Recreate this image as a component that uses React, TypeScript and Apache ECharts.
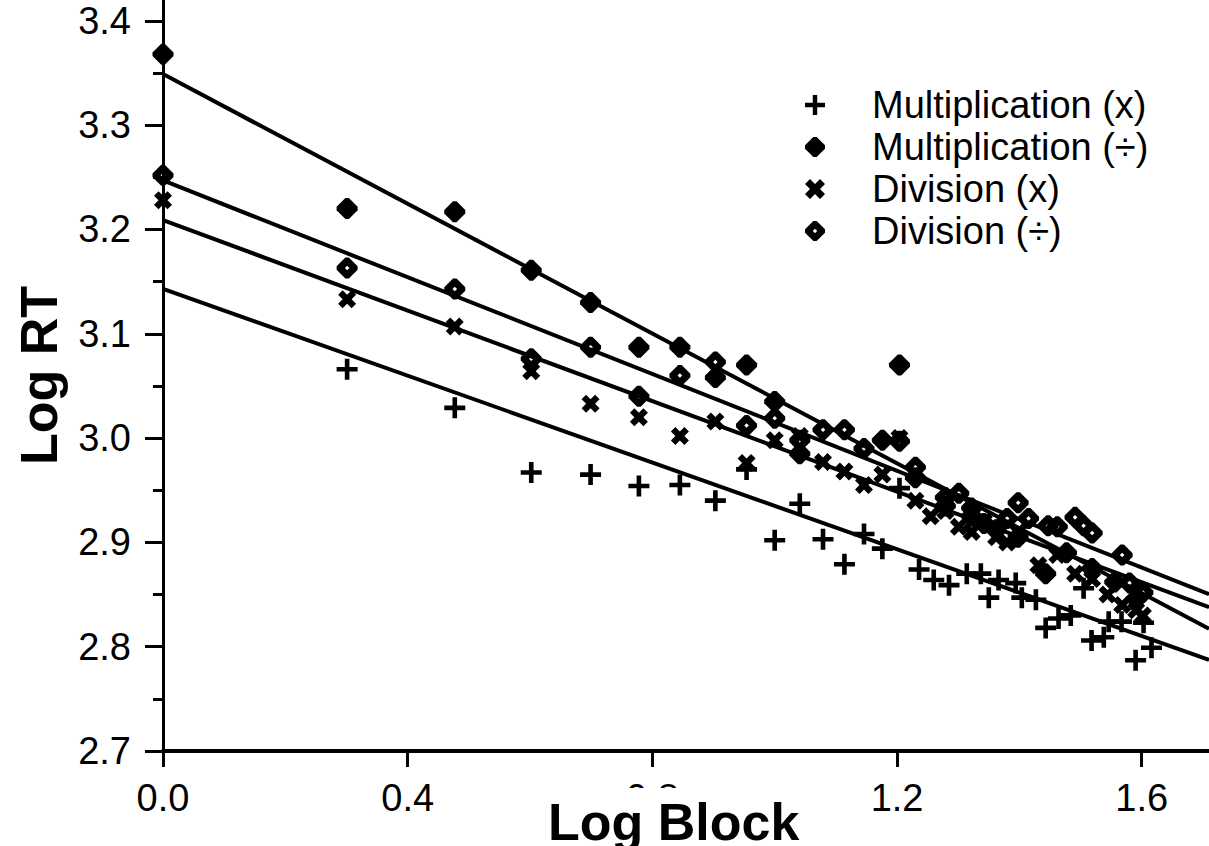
import React, { useEffect, useRef } from "react";
import * as echarts from "echarts";

// ---- data ----
const seriesNames = ["Multiplication (x)", "Multiplication (÷)", "Division (x)", "Division (÷)"];

const multTimesX = [0.301, 0.477, 0.602, 0.699, 0.778, 0.845, 0.903, 0.954, 1.0, 1.041, 1.079, 1.114, 1.146, 1.176, 1.204, 1.236, 1.26, 1.285, 1.314, 1.337, 1.35, 1.366, 1.394, 1.404, 1.427, 1.443, 1.464, 1.484, 1.505, 1.518, 1.538, 1.546, 1.567, 1.59, 1.603, 1.616];
const multTimesY = [3.066, 3.029, 2.967, 2.965, 2.954, 2.955, 2.94, 2.97, 2.902, 2.937, 2.903, 2.879, 2.908, 2.894, 2.952, 2.874, 2.864, 2.859, 2.87, 2.87, 2.847, 2.864, 2.861, 2.847, 2.845, 2.818, 2.827, 2.83, 2.856, 2.806, 2.809, 2.824, 2.824, 2.787, 2.823, 2.799];

const multDivX = [0, 0.301, 0.477, 0.602, 0.699, 0.778, 0.845, 0.903, 0.954, 1.0, 1.041, 1.176, 1.204, 1.23, 1.279, 1.322, 1.362, 1.398, 1.443, 1.477, 1.519, 1.556, 1.591];
const multDivY = [3.368, 3.22, 3.217, 3.161, 3.13, 3.087, 3.087, 3.058, 3.07, 3.035, 2.985, 2.998, 3.07, 2.962, 2.935, 2.925, 2.912, 2.905, 2.87, 2.89, 2.875, 2.862, 2.846];

const divTimesX = [0, 0.301, 0.477, 0.602, 0.699, 0.778, 0.845, 0.903, 0.954, 1.0, 1.041, 1.079, 1.114, 1.146, 1.176, 1.204, 1.23, 1.255, 1.279, 1.301, 1.322, 1.342, 1.362, 1.38, 1.398, 1.431, 1.462, 1.491, 1.519, 1.544, 1.568, 1.591, 1.602];
const divTimesY = [3.228, 3.133, 3.107, 3.064, 3.033, 3.02, 3.002, 3.016, 2.976, 2.998, 3.002, 2.977, 2.968, 2.955, 2.965, 3.0, 2.94, 2.925, 2.93, 2.915, 2.91, 2.92, 2.905, 2.9, 2.91, 2.878, 2.888, 2.87, 2.865, 2.85, 2.84, 2.835, 2.83];

const divDivX = [0, 0.301, 0.477, 0.602, 0.699, 0.778, 0.845, 0.903, 0.954, 1.0, 1.041, 1.079, 1.114, 1.146, 1.204, 1.23, 1.279, 1.301, 1.322, 1.342, 1.38, 1.398, 1.415, 1.447, 1.462, 1.491, 1.505, 1.519, 1.568, 1.58, 1.602];
const divDivY = [3.252, 3.163, 3.143, 3.076, 3.087, 3.04, 3.06, 3.073, 3.012, 3.019, 2.998, 3.008, 3.008, 2.99, 2.997, 2.972, 2.943, 2.947, 2.933, 2.918, 2.923, 2.938, 2.923, 2.916, 2.915, 2.924, 2.916, 2.909, 2.888, 2.861, 2.852];

// regression lines (same order as seriesNames)
const fitIntercepts = [3.143, 3.349, 3.209, 3.247];
const fitSlopes = [-0.208, -0.311, -0.217, -0.232];

const xTicks = [0, 0.4, 0.8, 1.2, 1.6];
const yTicks = [2.7, 2.8, 2.9, 3.0, 3.1, 3.2, 3.3, 3.4];
const yMinorTicks = [2.75, 2.85, 2.95, 3.05, 3.15, 3.25, 3.35];

const X_MIN = 0;
const X_MAX = 1.71;
const Y_MIN = 2.7;
const Y_MAX = 3.42;

// ---- symbols ----
const PLUS = "path://M3.9,0H6.1V3.9H10V6.1H6.1V10H3.9V6.1H0V3.9H3.9Z";
const FILLED = "path://M5,0L7,0L12,5L12,7L7,12L5,12L0,7L0,5Z";
const OPEN = "path://M5,0L7,0L12,5L12,7L7,12L5,12L0,7L0,5Z M6,4.7L4.7,6L6,7.3L7.3,6Z";
const XMARK = "path://M0,3L3,0L6,3L9,0L12,3L9,6L12,9L9,12L6,9L3,12L0,9L3,6Z";

const FONT = "'Liberation Sans', Arial, Helvetica, sans-serif";

function zip(xs: number[], ys: number[]) {
  return xs.map((x, i) => [x, ys[i]]);
}

export default function App() {
  const ref = useRef<HTMLDivElement>(null);

  useEffect(() => {
    if (!ref.current) return;
    const chart = echarts.init(ref.current, undefined, { renderer: "svg" });

    const scatterData = [
      zip(multTimesX, multTimesY),
      zip(multDivX, multDivY),
      zip(divTimesX, divTimesY),
      zip(divDivX, divDivY),
    ];
    const symbols = [PLUS, FILLED, XMARK, OPEN];
    const sizes = [21, 21, 18, 21];

    const scatterSeries = seriesNames.map((name, i) => ({
      type: "scatter",
      name,
      data: scatterData[i],
      symbol: symbols[i],
      symbolSize: sizes[i],
      symbolKeepAspect: true,
      itemStyle: { color: "#000", opacity: 1 },
      z: 3,
      silent: true,
    }));

    const lineSeries = fitIntercepts.map((a, i) => ({
      type: "line",
      name: "fit" + i,
      data: [
        [X_MIN, a + fitSlopes[i] * X_MIN],
        [X_MAX, a + fitSlopes[i] * X_MAX],
      ],
      showSymbol: false,
      symbol: "none",
      lineStyle: { color: "#000", width: 4 },
      z: 2,
      silent: true,
    }));

    chart.setOption({
      animation: false,
      backgroundColor: "#fff",
      textStyle: { fontFamily: FONT },
      title: {
        text: "Log Block",
        left: 538,
        top: 792,
        padding: [8, 10, 0, 10],
        backgroundColor: "#fff",
        z: 10,
        textStyle: { fontSize: 52, fontWeight: "bold", color: "#000", fontFamily: FONT, lineHeight: 44 },
      },
      grid: { left: 163, right: 0, top: 0, bottom: 95, containLabel: false, outerBoundsMode: "none" },
      legend: {
        data: seriesNames,
        orient: "vertical",
        left: 800,
        top: 81,
        itemWidth: 20,
        itemHeight: 20,
        itemGap: 4,
        selectedMode: false,
        textStyle: { fontSize: 38, color: "#000", fontFamily: FONT, lineHeight: 38, padding: [0, 0, 0, 42] },
      },
      xAxis: {
        type: "value",
        min: X_MIN,
        max: X_MAX,
        axisLine: { show: true, onZero: false, lineStyle: { color: "#000", width: 4 } },
        axisTick: { show: true, customValues: xTicks, length: 16, lineStyle: { color: "#000", width: 3 } },
        axisLabel: {
          customValues: xTicks,
          formatter: (v: number) => v.toFixed(1),
          fontSize: 38,
          color: "#000",
          margin: 28,
          fontFamily: FONT,
        },
        splitLine: { show: false },
      },
      yAxis: [
        {
          type: "value",
          min: Y_MIN,
          max: Y_MAX,
          name: "Log RT",
          nameLocation: "middle",
          nameGap: 98,
          nameMoveOverlap: false,
          nameTextStyle: { fontSize: 52, fontWeight: "bold", color: "#000", fontFamily: FONT },
          axisLine: { show: true, onZero: false, lineStyle: { color: "#000", width: 3 } },
          axisTick: { show: true, customValues: yTicks, length: 18, lineStyle: { color: "#000", width: 3 } },
          axisLabel: {
            customValues: yTicks,
            formatter: (v: number) => v.toFixed(1),
            fontSize: 38,
            color: "#000",
            margin: 32,
            fontFamily: FONT,
          },
          splitLine: { show: false },
        },
        {
          type: "value",
          min: Y_MIN,
          max: Y_MAX,
          position: "left",
          axisLine: { show: false },
          axisTick: { show: true, customValues: yMinorTicks, length: 10, lineStyle: { color: "#000", width: 3 } },
          axisLabel: { show: false },
          splitLine: { show: false },
        },
      ],
      series: [...lineSeries, ...scatterSeries],
    });

    return () => chart.dispose();
  }, []);

  return (
    <div
      ref={ref}
      style={{ position: "absolute", left: 0, top: 0, width: 1209, height: 846, background: "#fff" }}
    />
  );
}
